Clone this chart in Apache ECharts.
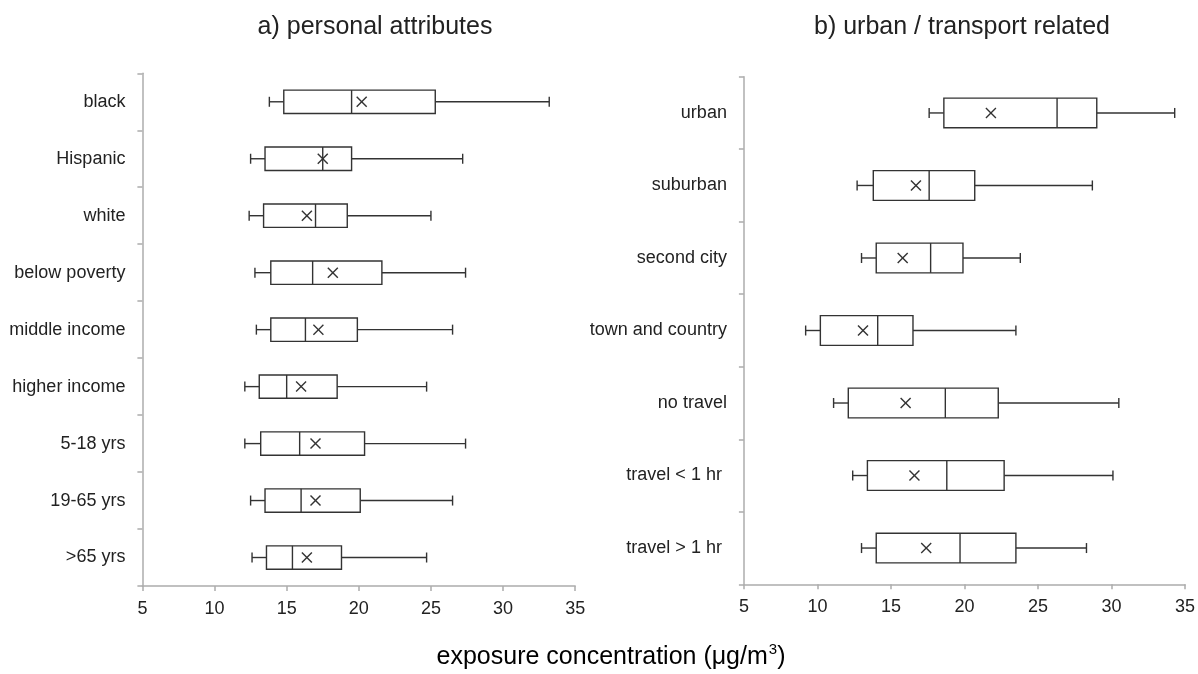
<!DOCTYPE html>
<html>
<head>
<meta charset="utf-8">
<script src="https://cdn.jsdelivr.net/npm/echarts@6/dist/echarts.min.js"></script>
<style>html,body{margin:0;padding:0;background:#fff}#c{width:1198px;height:674px}</style>
</head>
<body>
<div id="c"></div>
<script>
// ---- data ----
const catsA = ['black','Hispanic','white','below poverty','middle income','higher income','5-18 yrs','19-65 yrs','>65 yrs'];
const minA  = [13.8, 12.5, 12.4, 12.8, 12.9, 12.1, 12.1, 12.5, 12.6];
const q1A   = [14.8, 13.5, 13.4, 13.9, 13.9, 13.1, 13.2, 13.5, 13.6];
const medA  = [19.5, 17.5, 17.0, 16.8, 16.3, 15.0, 15.9, 16.0, 15.4];
const q3A   = [25.3, 19.5, 19.2, 21.6, 19.9, 18.5, 20.4, 20.1, 18.8];
const maxA  = [33.2, 27.2, 25.0, 27.4, 26.5, 24.7, 27.4, 26.5, 24.7];
const meanA = [20.2, 17.5, 16.4, 18.2, 17.2, 16.0, 17.0, 17.0, 16.4];

const catsB = ['urban','suburban','second city','town and country','no travel','travel < 1 hr ','travel > 1 hr '];
const minB  = [17.6, 12.7, 13.0, 9.2, 11.1, 12.4, 13.0];
const q1B   = [18.6, 13.8, 14.0, 10.2, 12.1, 13.4, 14.0];
const medB  = [26.3, 17.6, 17.7, 14.1, 18.7, 18.8, 19.7];
const q3B   = [29.0, 20.7, 19.9, 16.5, 22.3, 22.7, 23.5];
const maxB  = [34.3, 28.7, 23.8, 23.5, 30.5, 30.1, 28.3];
const meanB = [21.8, 16.7, 15.8, 13.1, 16.0, 16.6, 17.4];

const xTicks = [5, 10, 15, 20, 25, 30, 35];
const titleA = 'a) personal attributes';
const titleB = 'b) urban / transport related';

// ---- build ----
function rows(cats, mn, q1, md, q3, mx, me) {
  return cats.map((c, i) => [i, mn[i], q1[i], md[i], q3[i], mx[i], me[i]]);
}
const LINE = '#333';
function renderBox(params, api) {
  const y = api.value(0);
  const band = api.size([0, 1])[1];
  const h = band * 0.205;
  const cap = 5, xs = 5;
  const pMin = api.coord([api.value(1), y]);
  const pQ1 = api.coord([api.value(2), y]);
  const pMed = api.coord([api.value(3), y]);
  const pQ3 = api.coord([api.value(4), y]);
  const pMax = api.coord([api.value(5), y]);
  const pMean = api.coord([api.value(6), y]);
  const cy = pQ1[1];
  const st = { stroke: LINE, lineWidth: 1.4, fill: null };
  const L = (x1, y1, x2, y2) => ({ type: 'line', shape: { x1, y1, x2, y2 }, style: st });
  return {
    type: 'group',
    children: [
      L(pMin[0], cy, pQ1[0], cy),
      L(pMin[0], cy - cap, pMin[0], cy + cap),
      L(pQ3[0], cy, pMax[0], cy),
      L(pMax[0], cy - cap, pMax[0], cy + cap),
      { type: 'rect', shape: { x: pQ1[0], y: cy - h, width: pQ3[0] - pQ1[0], height: 2 * h }, style: { stroke: LINE, lineWidth: 1.4, fill: '#fff' } },
      L(pMed[0], cy - h, pMed[0], cy + h),
      L(pMean[0] - xs, cy - xs, pMean[0] + xs, cy + xs),
      L(pMean[0] - xs, cy + xs, pMean[0] + xs, cy - xs)
    ]
  };
}

const FONT = '"Liberation Sans", Arial, sans-serif';
const axisGray = '#acacac';
function xAx(idx) {
  return {
    type: 'value', gridIndex: idx, min: xTicks[0], max: xTicks[xTicks.length - 1], interval: 5,
    splitLine: { show: false },
    axisLine: { show: true, lineStyle: { color: axisGray, width: 1.5 } },
    axisTick: { show: true, length: 5, lineStyle: { color: axisGray, width: 1.5 } },
    axisLabel: { fontFamily: FONT, fontSize: 18, color: '#222', margin: 14 }
  };
}
function yAx(idx, cats) {
  return {
    type: 'category', gridIndex: idx, data: cats, inverse: true,
    axisLine: { show: true, lineStyle: { color: axisGray, width: 1.5 } },
    axisTick: { show: true, length: 5, lineStyle: { color: axisGray, width: 1.5 } },
    axisLabel: { fontFamily: FONT, fontSize: 18, color: '#222', margin: 17 }
  };
}

const chart = echarts.init(document.getElementById('c'), null, { renderer: 'canvas' });
chart.setOption({
  backgroundColor: '#fff',
  animation: false,
  grid: [
    { left: 142.4, top: 73.3, width: 432.8, height: 512.7 },
    { left: 743.9, top: 76.7, width: 443.2, height: 507.6 }
  ],
  xAxis: [xAx(0), xAx(1)],
  yAxis: [yAx(0, catsA), yAx(1, catsB)],
  series: [
    { type: 'custom', xAxisIndex: 0, yAxisIndex: 0, renderItem: renderBox,
      encode: { x: [1, 2, 3, 4, 5, 6], y: 0 },
      data: rows(catsA, minA, q1A, medA, q3A, maxA, meanA) },
    { type: 'custom', xAxisIndex: 1, yAxisIndex: 1, renderItem: renderBox,
      encode: { x: [1, 2, 3, 4, 5, 6], y: 0 },
      data: rows(catsB, minB, q1B, medB, q3B, maxB, meanB) }
  ],
  graphic: [
    { type: 'text', x: 375, y: 27, style: { text: titleA, font: '25px ' + FONT, fill: '#222', align: 'center', verticalAlign: 'middle' } },
    { type: 'text', x: 962, y: 27, style: { text: titleB, font: '25px ' + FONT, fill: '#222', align: 'center', verticalAlign: 'middle' } },
    { type: 'text', x: 611, y: 655, style: {
        text: '{a|exposure concentration (μg/m}{s|3}{a|)}',
        align: 'center', verticalAlign: 'middle',
        rich: {
          a: { fontFamily: FONT, fontSize: 25, color: '#222', lineHeight: 30, verticalAlign: 'bottom' },
          s: { fontFamily: FONT, fontSize: 15, color: '#222', lineHeight: 30, verticalAlign: 'top', padding: [2, 0, 0, 1] }
        } } }
  ]
});
</script>
</body>
</html>
